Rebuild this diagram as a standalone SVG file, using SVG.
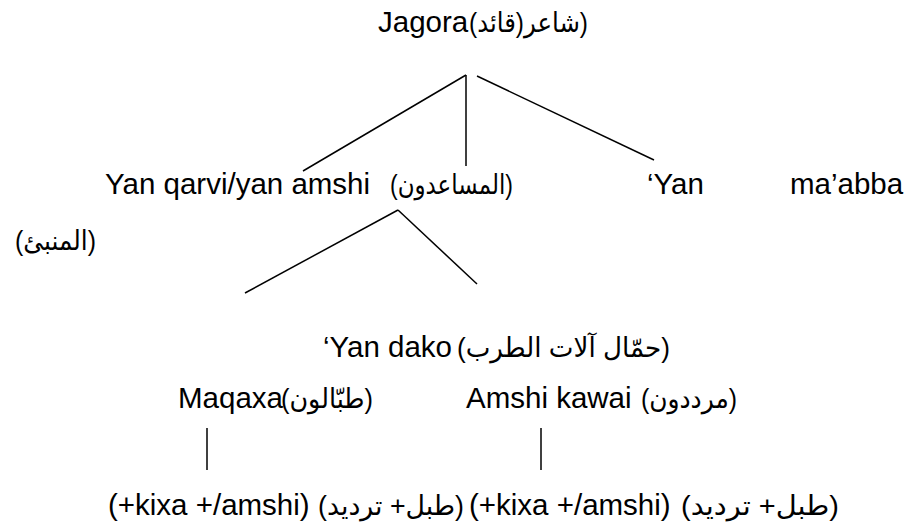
<svg xmlns="http://www.w3.org/2000/svg" width="912" height="531" viewBox="0 0 912 531">
<style>
text{font-family:"Liberation Sans","DejaVu Sans",sans-serif;font-size:29.5px;fill:#000;}
text.ar{font-size:27px;}
.ln{stroke:#000;stroke-width:1.5;fill:none;}
</style>
<rect width="912" height="531" fill="#fff"/>
<g id="connectors">
<line class="ln" x1="466" y1="75" x2="303" y2="171"/>
<line class="ln" x1="466" y1="75" x2="466" y2="166"/>
<line class="ln" x1="477" y1="76" x2="654" y2="160"/>
<line class="ln" x1="398" y1="210" x2="245" y2="293"/>
<line class="ln" x1="398" y1="210" x2="477" y2="284"/>
<line class="ln" x1="207" y1="428" x2="207" y2="470"/>
<line class="ln" x1="541" y1="428" x2="541" y2="470"/>
</g>
<g id="jagora">
<text x="378" y="32">Jagora</text>
<text class="ar" x="469" y="32" textLength="119" lengthAdjust="spacingAndGlyphs">(قائد)شاعر)</text>
</g>
<g id="yan-qarvi">
<text x="105" y="194">Yan qarvi/yan amshi</text>
<text class="ar" x="390" y="194" textLength="123" lengthAdjust="spacingAndGlyphs">(المساعدون)</text>
</g>
<g id="yan-maabba">
<text x="647" y="194">‘Yan</text>
<text x="790" y="194">ma’abba</text>
<text class="ar" x="15" y="250" textLength="81" lengthAdjust="spacingAndGlyphs">(المنبئ)</text>
</g>
<g id="yan-dako">
<text x="323" y="357">‘Yan dako</text>
<text class="ar" x="457" y="357" textLength="213" lengthAdjust="spacingAndGlyphs">(حمّال آلات الطرب)</text>
</g>
<g id="maqaxa">
<text x="178" y="408">Maqaxa</text>
<text class="ar" x="281" y="408" textLength="92" lengthAdjust="spacingAndGlyphs">(طبّالون)</text>
</g>
<g id="amshi-kawai">
<text x="466" y="408">Amshi kawai</text>
<text class="ar" x="641" y="408" textLength="96" lengthAdjust="spacingAndGlyphs">(مرددون)</text>
</g>
<g id="maqaxa-role">
<text x="108" y="515">(+kixa +/amshi)</text>
<text class="ar" x="318" y="515" textLength="146" lengthAdjust="spacingAndGlyphs">(طبل+ ترديد)</text>
</g>
<g id="amshi-role">
<text x="469" y="515">(+kixa +/amshi)</text>
<text class="ar" x="681" y="515" textLength="158" lengthAdjust="spacingAndGlyphs">(طبل+ ترديد)</text>
</g>
</svg>
